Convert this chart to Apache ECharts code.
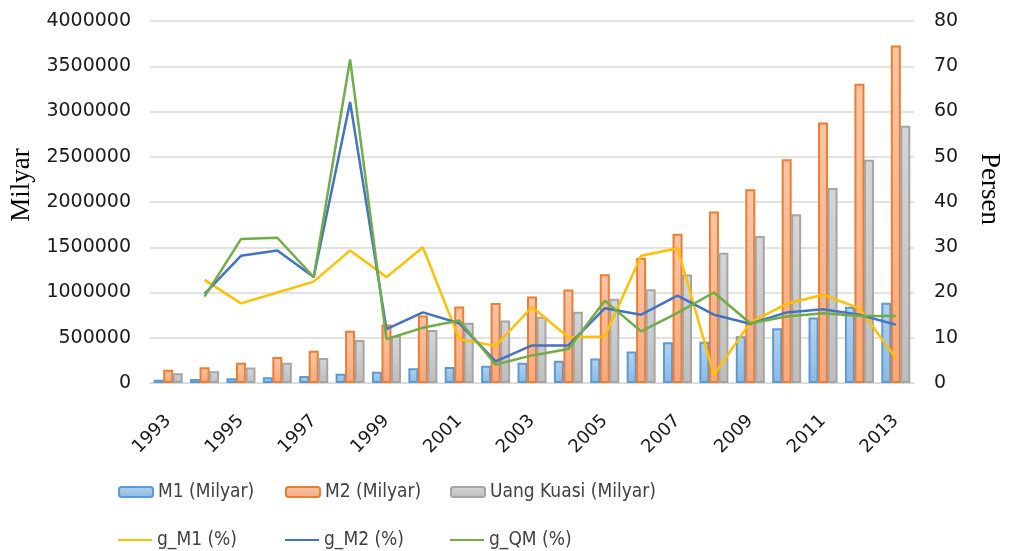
<!DOCTYPE html>
<html>
<head>
<meta charset="utf-8">
<script src="https://cdn.jsdelivr.net/npm/echarts@6/dist/echarts.min.js"></script>
<style>
  html, body { margin: 0; padding: 0; background: #fff; }
  #chart { width: 1011px; height: 551px; }
</style>
</head>
<body>
<div id="chart"></div>
<script>
// tahun
var years = ['1993','1994','1995','1996','1997','1998','1999','2000','2001','2002','2003',
             '2004','2005','2006','2007','2008','2009','2010','2011','2012','2013'];

// Milyar
var m1 = [36805, 45374, 52677, 64089, 78343, 101197, 124633, 162186, 177731, 191939, 223799,
          245946, 271140, 347013, 450055, 456787, 515824, 605411, 722991, 841722, 887064];
var m2 = [145202, 174512, 222638, 288632, 355643, 577381, 646205, 747028, 844053, 883908, 955692,
          1033877, 1202762, 1382493, 1649662, 1895839, 2141384, 2471206, 2877220, 3307508, 3730197];
var qm = [108397, 129138, 169961, 224543, 277300, 476184, 521572, 584842, 666322, 691969, 731893,
          787931, 931622, 1035480, 1199607, 1439052, 1625560, 1865795, 2154229, 2465786, 2843133];

// persen
var gM1 = [null, 22.8, 17.6, 20.0, 22.4, 29.3, 23.4, 30.0, 9.7, 8.2, 16.8,
           10.1, 10.3, 28.1, 29.8, 1.8, 13.4, 17.5, 19.5, 16.5, 5.5];
var gM2 = [null, 19.7, 28.1, 29.3, 23.4, 62.1, 11.9, 15.6, 13.2, 4.8, 8.3,
           8.3, 16.5, 15.1, 19.3, 15.1, 13.1, 15.6, 16.3, 15.1, 12.9];
var gQM = [null, 19.1, 31.8, 32.1, 23.4, 71.5, 9.7, 12.2, 13.8, 4.1, 6.1,
           7.5, 18.2, 11.4, 15.5, 20.0, 13.2, 14.7, 15.4, 14.8, 14.8];

var labelFont = 'DejaVu Sans';
var legendFont = "'DejaVu Sans Condensed', 'Liberation Sans Narrow', sans-serif";

function barSeries(name, data, fillTop, fillBottom, border) {
    return {
        name: name,
        type: 'bar',
        yAxisIndex: 0,
        data: data,
        barWidth: 10,
        barGap: '-5%',
        itemStyle: {
            color: new echarts.graphic.LinearGradient(0, 0, 0, 1, [
                { offset: 0, color: fillTop },
                { offset: 1, color: fillBottom }
            ]),
            borderColor: border,
            borderWidth: 2
        }
    };
}

function lineSeries(name, data, color) {
    return {
        name: name,
        type: 'line',
        yAxisIndex: 1,
        data: data,
        symbol: 'none',
        z: 5,
        lineStyle: { color: color, width: 2.5 },
        itemStyle: { color: color }
    };
}

function legendAt(name, left, top, isLine) {
    return {
        data: [isLine ? { name: name, icon: 'path://M0,0 L34,0 L34,2 L0,2 Z' } : name],
        left: left,
        top: top,
        padding: 0,
        itemWidth: 34,
        itemHeight: isLine ? 2 : 10,
        itemGap: 4,
        textStyle: { fontFamily: legendFont, fontSize: 19, color: '#404040', lineHeight: 22 }
    };
}

var chart = echarts.init(document.getElementById('chart'));

var option = {
    animation: false,
    backgroundColor: '#fff',
    grid: { left: 147, right: 93, top: 21, bottom: 168 },
    legend: [
        legendAt('M1 (Milyar)', 118, 481, false),
        legendAt('M2 (Milyar)', 285, 481, false),
        legendAt('Uang Kuasi (Milyar)', 450, 481, false),
        legendAt('g_M1 (%)', 118, 529, true),
        legendAt('g_M2 (%)', 285, 529, true),
        legendAt('g_QM (%)', 450, 529, true)
    ],
    xAxis: {
        type: 'category',
        data: years,
        axisTick: { show: false },
        axisLine: { lineStyle: { color: '#d9d9d9', width: 1 } },
        axisLabel: {
            interval: 1,
            rotate: 45,
            margin: 35,
            fontFamily: labelFont,
            fontSize: 18,
            color: '#1a1a1a'
        }
    },
    yAxis: [
        {
            type: 'value',
            min: 0,
            max: 4000000,
            interval: 500000,
            name: 'Milyar',
            nameLocation: 'middle',
            nameRotate: 90,
            nameGap: 115,
            nameTextStyle: {
                fontFamily: 'Liberation Serif',
                fontSize: 27,
                color: '#000',
                padding: [0, 0, 0, 34]
            },
            axisLine: { show: false },
            axisTick: { show: false },
            splitLine: { lineStyle: { color: '#d9d9d9', width: 1.5 } },
            axisLabel: {
                margin: 19,
                fontFamily: labelFont,
                fontSize: 19,
                color: '#1a1a1a',
                formatter: function (v) { return String(v); }
            }
        },
        {
            type: 'value',
            min: 0,
            max: 80,
            interval: 10,
            name: 'Persen',
            nameLocation: 'middle',
            nameRotate: -90,
            nameGap: 62,
            nameTextStyle: {
                fontFamily: 'Liberation Serif',
                fontSize: 27,
                color: '#000',
                padding: [0, 26, 0, 0]
            },
            axisLine: { show: false },
            axisTick: { show: false },
            splitLine: { show: false },
            axisLabel: { margin: 20, fontFamily: labelFont, fontSize: 19, color: '#1a1a1a' }
        }
    ],
    series: [
        barSeries('M1 (Milyar)', m1, '#b4d2ee', '#8db9e3', '#5b9bd5'),
        barSeries('M2 (Milyar)', m2, '#f8c6a6', '#f4a97e', '#ed7d31'),
        barSeries('Uang Kuasi (Milyar)', qm, '#d6d6d6', '#bdbdbd', '#a5a5a5'),
        lineSeries('g_M1 (%)', gM1, '#ffc000'),
        lineSeries('g_M2 (%)', gM2, '#4472c4'),
        lineSeries('g_QM (%)', gQM, '#70ad47')
    ]
};

chart.setOption(option);
</script>
</body>
</html>
